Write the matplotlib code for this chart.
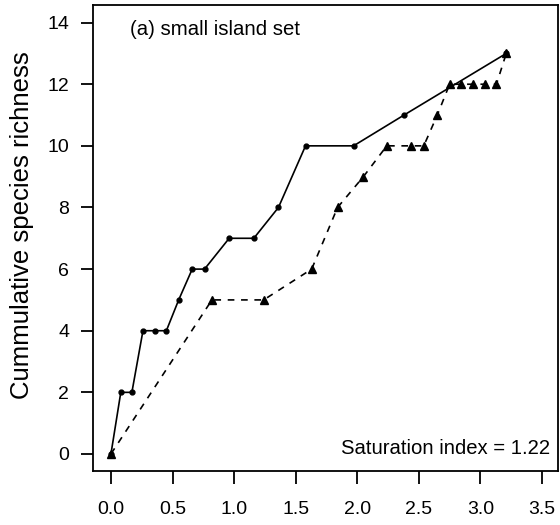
import matplotlib
matplotlib.use("Agg")
import matplotlib.pyplot as plt

plt.rcParams['font.family'] = ['Liberation Sans', 'DejaVu Sans']

# log island area (x) vs cumulative richness, two orderings
x_small = [0.0, 0.08, 0.17, 0.26, 0.36, 0.45, 0.55, 0.66, 0.76, 0.96, 1.16,
           1.36, 1.58, 1.97, 2.38, 3.21]
y_small = [0, 2, 2, 4, 4, 4, 5, 6, 6, 7, 7, 8, 10, 10, 11, 13]

x_large = [0.0, 0.82, 1.24, 1.63, 1.84, 2.05, 2.24, 2.44, 2.54, 2.65, 2.75,
           2.84, 2.94, 3.04, 3.13, 3.21]
y_large = [0, 5, 5, 6, 8, 9, 10, 10, 10, 11, 12, 12, 12, 12, 12, 13]

panel_label = "(a) small island set"
sat_label = "Saturation index = 1.22"
xticks = [0.0, 0.5, 1.0, 1.5, 2.0, 2.5, 3.0, 3.5]
yticks = [0, 2, 4, 6, 8, 10, 12, 14]

fig = plt.figure(figsize=(5.6, 5.25), dpi=100)
ax = fig.add_axes([0.166, 0.103, 0.830, 0.888])

ax.plot(x_small, y_small, '-', color='black', lw=1.2,
        marker='o', markersize=3.5)
ax.plot(x_large, y_large, '--', color='black', lw=1.2, dashes=(4, 4),
        marker='^', markersize=6)

ax.set_xlim(-0.146, 3.628)
ax.set_ylim(-0.55, 14.58)
ax.set_xticks(xticks)
ax.set_xticklabels(["%.1f" % t for t in xticks])
ax.set_yticks(yticks)

for s in ax.spines.values():
    s.set_linewidth(1.3)
ax.tick_params(axis='both', direction='out', length=9, width=1.3,
               labelsize=14)
ax.tick_params(axis='x', pad=12.5)
ax.tick_params(axis='y', pad=8)

ax.set_ylabel("Cummulative species richness", fontsize=18.5)
ax.yaxis.set_label_coords(-0.127, 0.528)

ax.text(0.080, 0.946, panel_label, transform=ax.transAxes, fontsize=14.7,
        ha='left', va='center')
ax.text(0.983, 0.049, sat_label, transform=ax.transAxes, fontsize=14.6,
        ha='right', va='center')

fig.savefig("out.png", dpi=100)
